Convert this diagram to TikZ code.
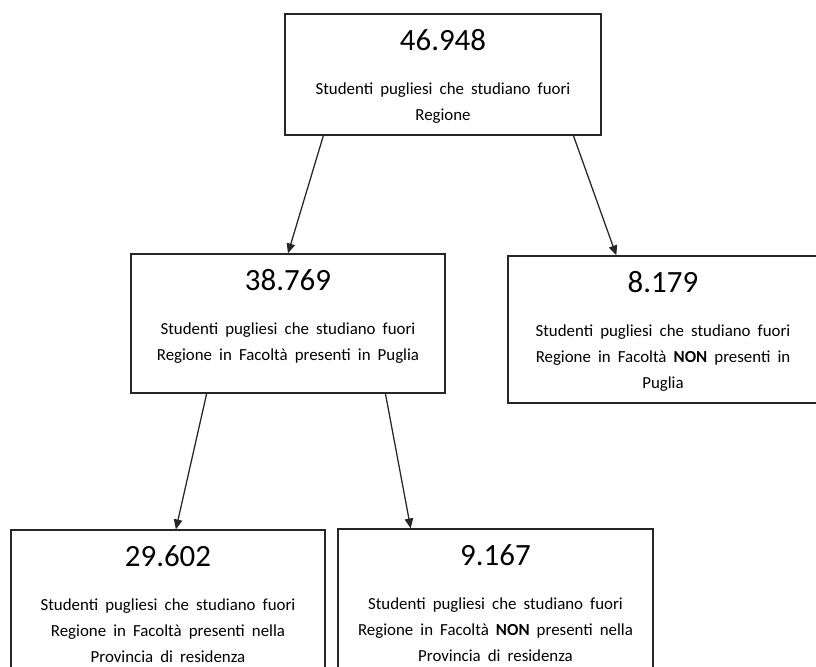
\documentclass[tikz,border=0pt]{standalone}
\usepackage{fontspec}
\setmainfont{Carlito}
\usetikzlibrary{arrows.meta, calc}
\newcommand\numfont{\fontsize{22}{26}\selectfont}
\newcommand\txtfont{\fontsize{12}{18.4}\selectfont\spaceskip=0.42em}
\newcommand\panel[4]{\parbox[c][#2][t]{#1}{\centering
  \vspace*{11pt}{\numfont #3}\par
  \vspace{12.9pt}{\txtfont #4\par}}}
\tikzset{
  panelbox/.style = {draw=black!85, line width=0.9pt, inner sep=0pt},
  link/.style = {draw=black!85, line width=0.9pt, -{Triangle[length=7pt,width=6pt]}}
}

\begin{document}
\begin{tikzpicture}[x=0.025cm, y=-0.025cm]
  \clip (0,0) rectangle (816,666);
  \node[panelbox] (tot) at (443,74.5)
    {\panel{7.9cm}{3.025cm}{46.948}{Studenti pugliesi che studiano fuori\\Regione}};
  \node[panelbox] (inpu) at (288,323.5)
    {\panel{7.85cm}{3.475cm}{38.769}{Studenti pugliesi che studiano fuori\\Regione in Facoltà presenti in Puglia}};
  \node[panelbox] (fuori) at (663,329.5)
    {\panel{7.75cm}{3.675cm}{8.179}{Studenti pugliesi che studiano fuori\\Regione in Facoltà \textbf{NON} presenti in\\Puglia}};
  \node[panelbox] (inprov) at (168,630)
    {\panel{7.85cm}{5cm}{29.602}{Studenti pugliesi che studiano fuori\\Regione in Facoltà presenti nella\\Provincia di residenza}};
  \node[panelbox] (fuoriprov) at (495.5,629)
    {\panel{7.875cm}{5cm}{9.167}{Studenti pugliesi che studiano fuori\\Regione in Facoltà \textbf{NON} presenti nella\\Provincia di residenza}};

  % arrows
  \draw[link] ($(tot.south west)!0.123!(tot.south east)$) -- (inpu.north);
  \draw[link] ($(tot.south west)!0.911!(tot.south east)$) -- ($(fuori.north west)!0.35!(fuori.north east)$);
  \draw[link] ($(inpu.south west)!0.242!(inpu.south east)$) -- ($(inprov.north west)!0.525!(inprov.north east)$);
  \draw[link] ($(inpu.south west)!0.809!(inpu.south east)$) -- ($(fuoriprov.north west)!0.232!(fuoriprov.north east)$);
\end{tikzpicture}
\end{document}
